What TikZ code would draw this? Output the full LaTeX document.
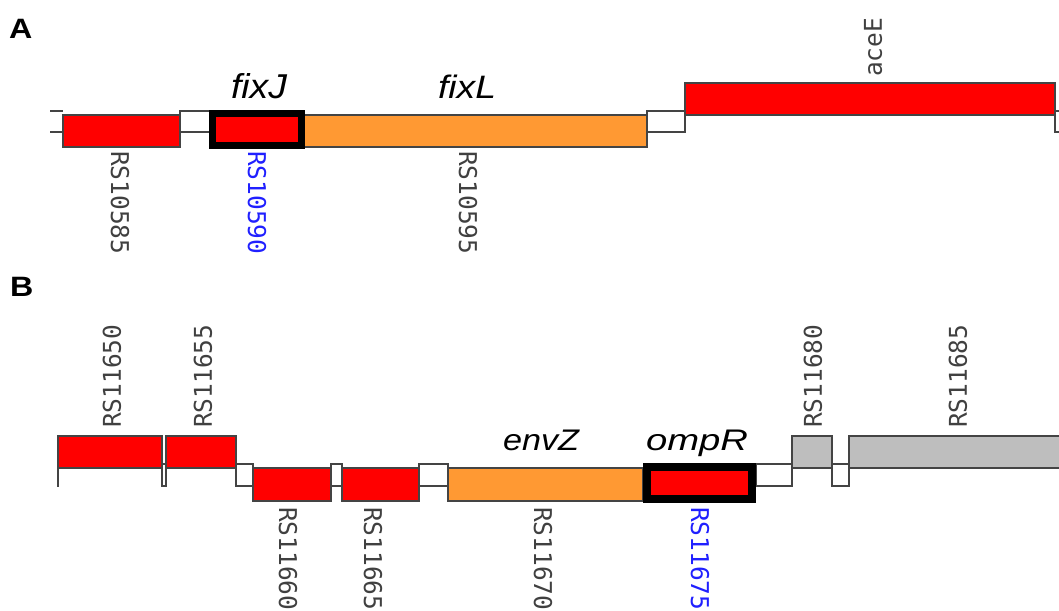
\documentclass[tikz,border=0pt]{standalone}
\usepackage{fontspec}
\usepackage{graphicx}
\newfontfamily\monof{DejaVu Sans Mono}
\newfontfamily\sansf{Liberation Sans}
\definecolor{genered}{HTML}{FF0000}
\definecolor{geneorange}{HTML}{FF9933}
\definecolor{genegray}{HTML}{BEBEBE}
\definecolor{locusgray}{HTML}{404040}
\definecolor{locusblue}{HTML}{2020FF}
\definecolor{edge}{HTML}{444444}
% gene name set to a given width and height (in pt)
\newcommand{\genename}[3]{\resizebox{#1pt}{#2pt}{\sansf\itshape\fontsize{28}{28}\selectfont #3}}
\newcommand{\panellabel}[1]{\scalebox{1.15}[1]{\sansf\bfseries\fontsize{28}{28}\selectfont #1}}
\begin{document}
\begin{tikzpicture}[x=1pt,y=-1pt,
  gene/.style={draw=edge, line width=1.4pt},
  redgene/.style={gene, fill=genered},
  orangegene/.style={gene, fill=geneorange},
  graygene/.style={gene, fill=genegray},
  spacer/.style={draw=edge, fill=white, line width=1.3pt},
  hilite/.style={draw=black, line width=7pt, fill=genered},
  locus/.style={inner sep=0pt, text=locusgray, font=\monof\fontsize{24.5}{24.5}\selectfont},
  downlocus/.style={locus, rotate=-90, anchor=west},
  uplocus/.style={locus, rotate=90, anchor=west},
  namelabel/.style={inner sep=0pt, anchor=base}]
\useasboundingbox (0,0) rectangle (1059,610);
\clip (0,0) rectangle (1059,610);

% ---------- Panel A ----------
\node[inner sep=0pt, anchor=base west] (labA) at (9,38) {\panellabel{A}};

% intergenic spacers
\draw[edge, line width=1.3pt] (50,111) -- (63,111) (50,132) -- (63,132);
\draw[spacer] (180,111) rectangle (210,132);
\draw[spacer] (647,111) rectangle (685,132);
\draw[spacer] (1055,111) rectangle (1075,132);

% genes
\draw[redgene] (63,115) rectangle (180,147);
\draw[orangegene] (304,115) rectangle (647,147);
\draw[hilite] (212.5,113.5) rectangle (301.5,145.5);
\draw[redgene] (685,83) rectangle (1055,115);

% gene names
\node[namelabel] (fixJ) at (259,98) {\genename{56}{25}{fixJ}};
\node[namelabel] (fixL) at (467,98) {\genename{58}{23.5}{fixL}};

% locus tags
\node[downlocus] (l10585) at (120,151) {RS10585};
\node[downlocus, text=locusblue] (l10590) at (257,151) {RS10590};
\node[downlocus] (l10595) at (468,151) {RS10595};
\node[uplocus] (laceE) at (873,77) {aceE};

% ---------- Panel B ----------
\node[inner sep=0pt, anchor=base west] (labB) at (10,296) {\panellabel{B}};

% intergenic spacers
\draw[edge, line width=1.3pt] (57,486) -- (58,486) -- (58,468);
\draw[spacer] (162,464) rectangle (166,486);
\draw[spacer] (236,464) rectangle (253,486);
\draw[spacer] (331,464) rectangle (342,486);
\draw[spacer] (419,464) rectangle (448,486);
\draw[spacer] (756,464) rectangle (792,486);
\draw[spacer] (832,464) rectangle (849,486);

% genes
\draw[redgene] (58,436) rectangle (162,468);
\draw[redgene] (166,436) rectangle (236,468);
\draw[redgene] (253,468) rectangle (331,501);
\draw[redgene] (342,468) rectangle (419,501);
\draw[orangegene] (448,468) rectangle (643,501);
\draw[hilite, line width=8pt] (647,467) rectangle (752,499);
\draw[graygene] (792,436) rectangle (832,468);
\draw[graygene] (849,436) rectangle (1075,468);

% gene names
\node[namelabel] (envZ) at (541,450) {\genename{76}{20.5}{envZ}};
\node[namelabel] (ompR) at (697,450) {\genename{102}{20.5}{ompR}};

% locus tags
\node[uplocus] (l11650) at (112,428) {RS11650};
\node[uplocus] (l11655) at (203,428) {RS11655};
\node[downlocus] (l11660) at (288,507) {RS11660};
\node[downlocus] (l11665) at (373,507) {RS11665};
\node[downlocus] (l11670) at (543,507) {RS11670};
\node[downlocus, text=locusblue] (l11675) at (700,507) {RS11675};
\node[uplocus] (l11680) at (813,428) {RS11680};
\node[uplocus] (l11685) at (958,428) {RS11685};
\end{tikzpicture}
\end{document}
